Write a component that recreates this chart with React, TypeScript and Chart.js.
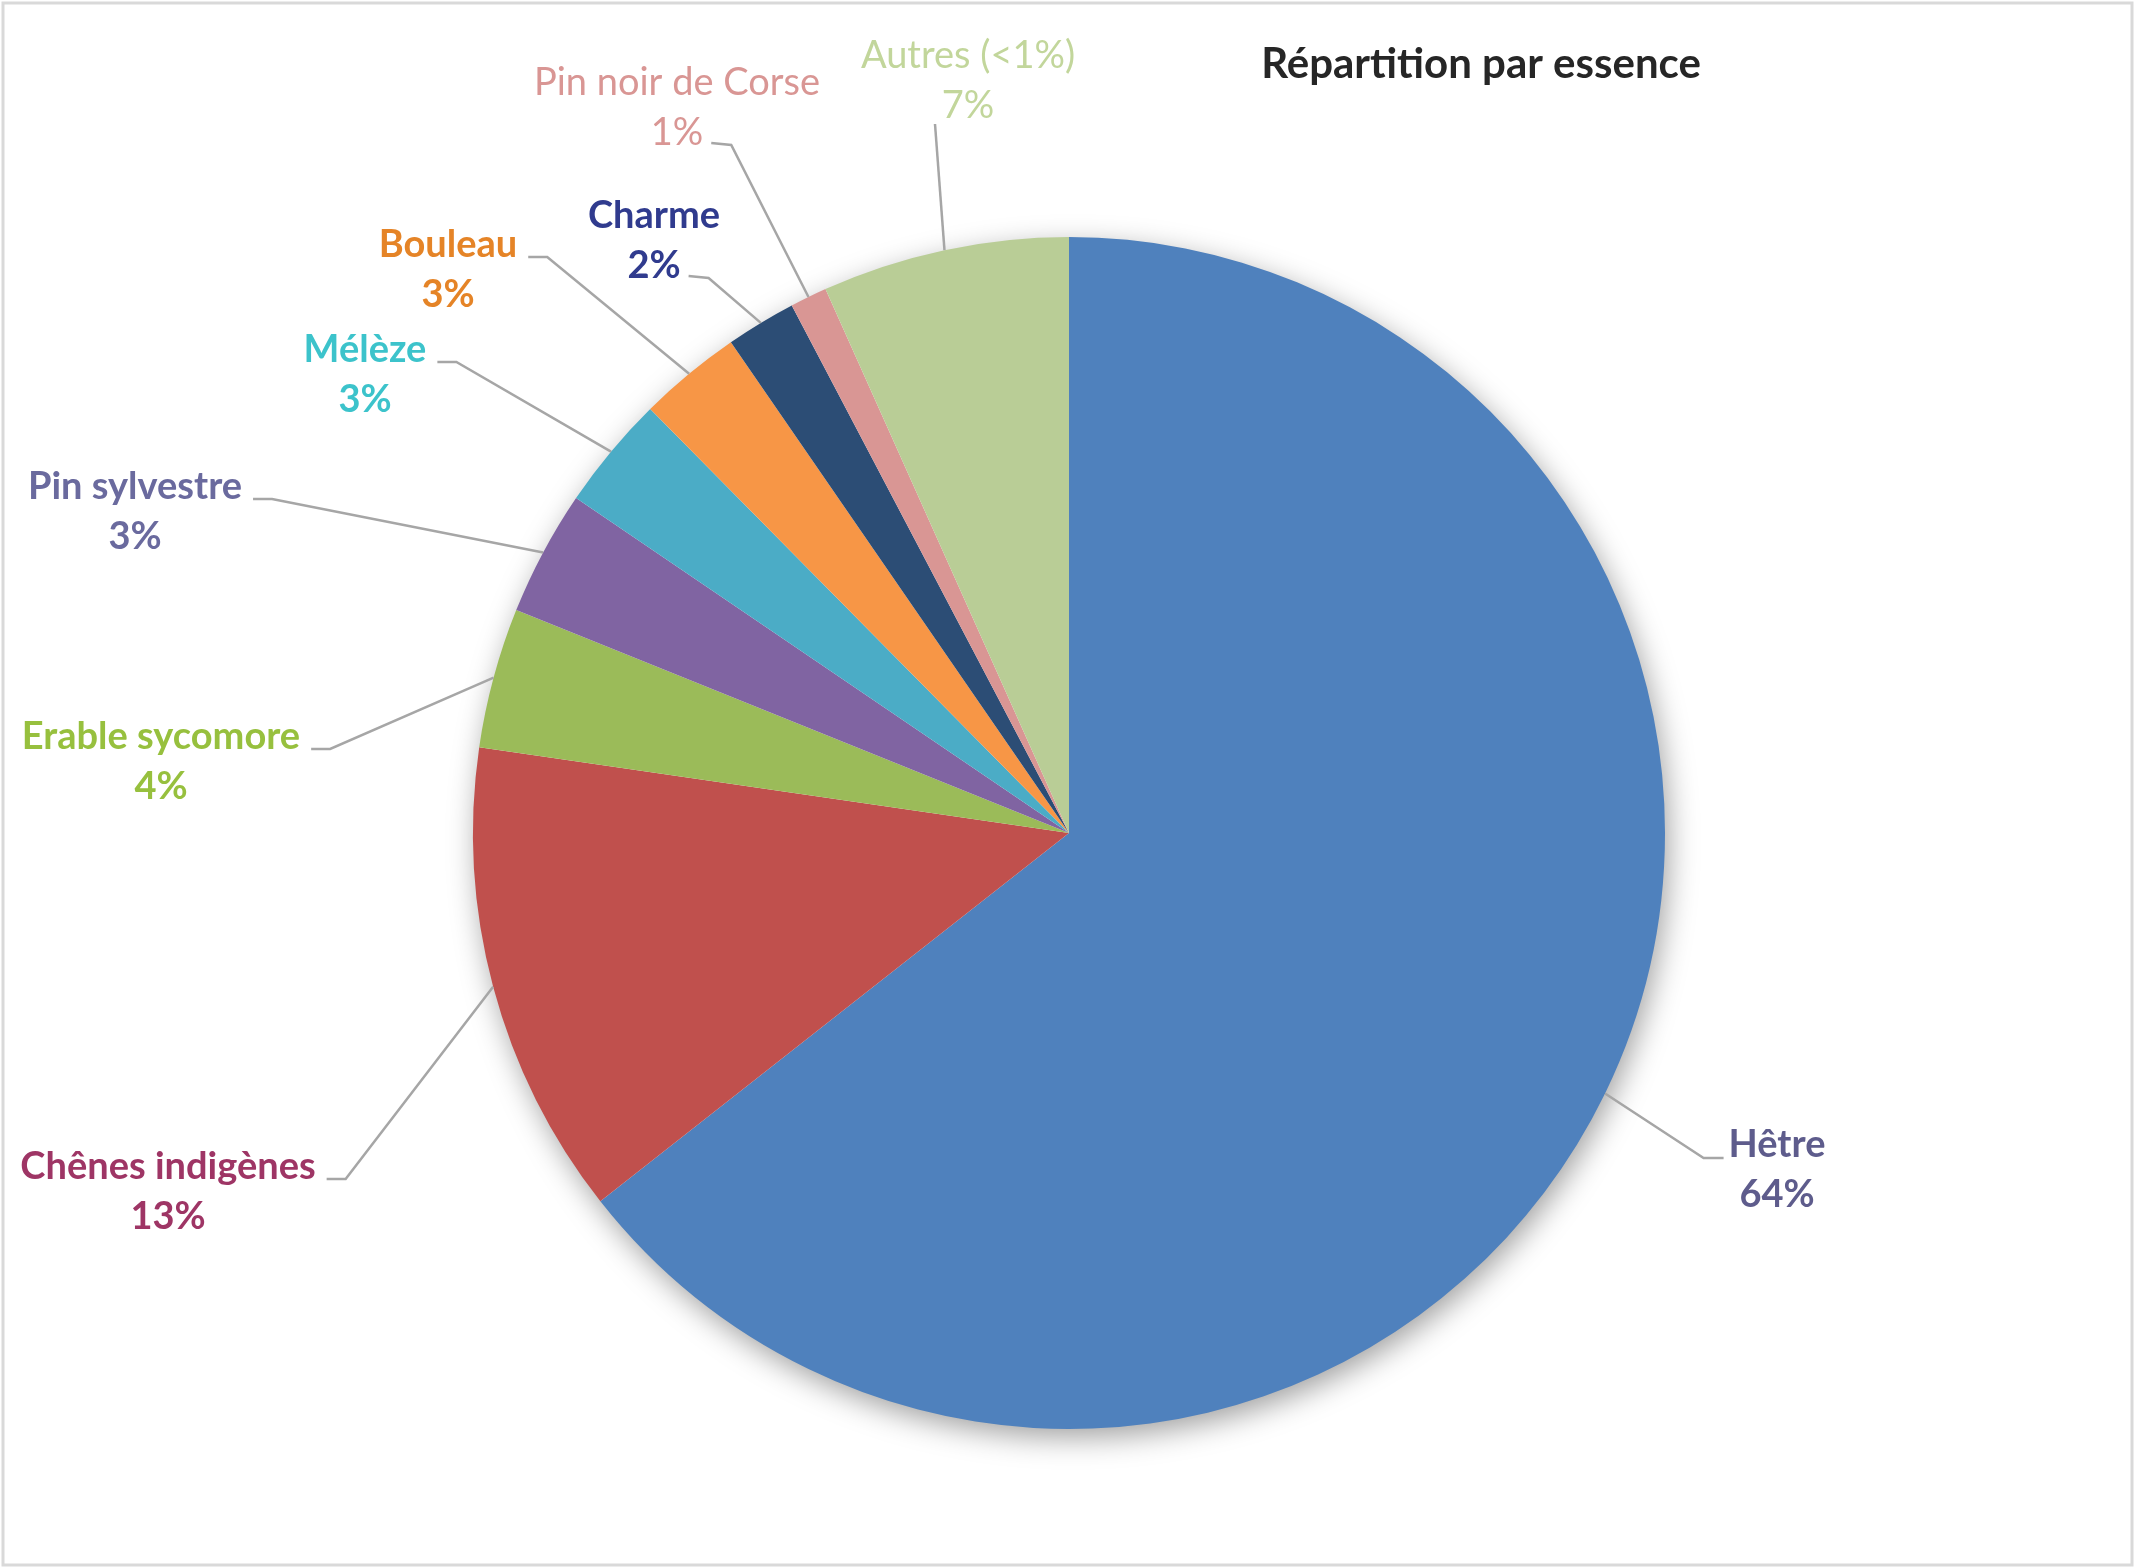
import React, { useEffect, useRef } from "react";
import { Chart, registerables } from "chart.js";

Chart.register(...registerables);

// ---- data ----
const categories = [
  "Hêtre",
  "Chênes indigènes",
  "Erable sycomore",
  "Pin sylvestre",
  "Mélèze",
  "Bouleau",
  "Charme",
  "Pin noir de Corse",
  "Autres (<1%)",
];
const shares = [64.4, 12.9, 3.8, 3.4, 3.1, 2.8, 1.9, 1.0, 6.7];
const percentLabels = ["64%", "13%", "4%", "3%", "3%", "3%", "2%", "1%", "7%"];
const chartTitle = "Répartition par essence";

// ---- styles ----
const sliceColors = [
  "#4F81BD",
  "#C0504D",
  "#9BBB59",
  "#8064A2",
  "#4BACC6",
  "#F79646",
  "#2C4D75",
  "#D99694",
  "#B9CD96",
];
const labelColors = [
  "#5E5C8C",
  "#9E3565",
  "#97C03E",
  "#6A6A9E",
  "#3CC3CB",
  "#E58427",
  "#303B8E",
  "#D99694",
  "#C2D69B",
];

// ---- layout (page pixels) ----
const W = 2135;
const H = 1568;
const CX = 1069;
const CY = 833;
const R = 596;
const FONT = "Lato, 'Open Sans', sans-serif";
const LABEL_SIZE = 38;
const LINE_GAP = 50;

type Attach = "nameLeft" | "nameRight" | "pctRight" | "below";
const labelLayout: { x: number; y: number; attach: Attach; bold: boolean }[] = [
  { x: 1777, y: 1145, attach: "nameLeft", bold: true },
  { x: 168, y: 1167, attach: "nameRight", bold: true },
  { x: 161, y: 737, attach: "nameRight", bold: true },
  { x: 135, y: 487, attach: "nameRight", bold: true },
  { x: 365, y: 350, attach: "nameRight", bold: true },
  { x: 448, y: 245, attach: "nameRight", bold: true },
  { x: 654, y: 216, attach: "pctRight", bold: true },
  { x: 677, y: 83, attach: "pctRight", bold: false },
  { x: 968, y: 56, attach: "below", bold: false },
];

const decorPlugin = {
  id: "decor",
  beforeDraw(chart: any) {
    const ctx = chart.ctx;
    ctx.save();
    ctx.fillStyle = "#ffffff";
    ctx.fillRect(0, 0, W, H);
    ctx.strokeStyle = "#D9D9D9";
    ctx.lineWidth = 3;
    ctx.strokeRect(3, 3, W - 6, H - 6);
    ctx.restore();
  },
  beforeDatasetsDraw(chart: any) {
    const meta = chart.getDatasetMeta(0);
    const a = meta.data[0];
    if (!a) return;
    const { x, y, outerRadius } = a.getProps(["x", "y", "outerRadius"], true);
    const ctx = chart.ctx;
    ctx.save();
    ctx.shadowColor = "rgba(0,0,0,0.38)";
    ctx.shadowBlur = 30;
    ctx.shadowOffsetX = 4;
    ctx.shadowOffsetY = 9;
    ctx.fillStyle = "#ffffff";
    ctx.beginPath();
    ctx.arc(x, y, outerRadius - 1, 0, Math.PI * 2);
    ctx.fill();
    ctx.restore();
  },
  afterDatasetsDraw(chart: any) {
    const ctx = chart.ctx;
    const meta = chart.getDatasetMeta(0);
    ctx.save();
    // title
    ctx.fillStyle = "#262626";
    ctx.font = `bold 42px ${FONT}`;
    ctx.textAlign = "center";
    ctx.textBaseline = "middle";
    ctx.fillText(chartTitle, 1481, 64);

    meta.data.forEach((arc: any, i: number) => {
      const p = arc.getProps(["x", "y", "startAngle", "endAngle", "outerRadius"], true);
      const mid = (p.startAngle + p.endAngle) / 2;
      const ax = p.x + Math.cos(mid) * p.outerRadius;
      const ay = p.y + Math.sin(mid) * p.outerRadius;
      const L = labelLayout[i];
      ctx.font = `${L.bold ? "bold" : "normal"} ${LABEL_SIZE}px ${FONT}`;
      const nameW = ctx.measureText(categories[i]).width;
      const pctW = ctx.measureText(percentLabels[i]).width;

      let ex = 0, ey = 0, bx = 0, by = 0;
      if (L.attach === "nameRight") {
        ex = L.x + nameW / 2 + 11;
        ey = L.y + 12;
        bx = ex + 19;
        by = ey;
      } else if (L.attach === "nameLeft") {
        ex = L.x - nameW / 2 - 5;
        ey = L.y + 13;
        bx = ex - 20;
        by = ey;
      } else if (L.attach === "pctRight") {
        ex = L.x + pctW / 2 + 8;
        ey = L.y + LINE_GAP + 10;
        bx = ex + 20;
        by = ey + 2;
      } else {
        ex = L.x - 33;
        ey = L.y + LINE_GAP + 18;
        bx = ex;
        by = ey;
      }
      ctx.strokeStyle = "#A6A6A6";
      ctx.lineWidth = 2.5;
      ctx.beginPath();
      ctx.moveTo(ex, ey);
      ctx.lineTo(bx, by);
      ctx.lineTo(ax, ay);
      ctx.stroke();

      ctx.fillStyle = labelColors[i];
      ctx.textAlign = "center";
      ctx.textBaseline = "middle";
      ctx.fillText(categories[i], L.x, L.y);
      ctx.fillText(percentLabels[i], L.x, L.y + LINE_GAP);
    });
    ctx.restore();
  },
};

export default function App() {
  const ref = useRef<HTMLCanvasElement | null>(null);
  useEffect(() => {
    document.body.style.margin = "0";
    document.body.style.overflow = "hidden";
    const canvas = ref.current;
    if (!canvas) return;
    const chart = new Chart(canvas, {
      type: "pie",
      data: {
        labels: categories,
        datasets: [
          {
            data: shares,
            backgroundColor: sliceColors,
            borderWidth: 0,
            hoverOffset: 0,
          },
        ],
      },
      options: {
        responsive: false,
        animation: false,
        devicePixelRatio: 1,
        radius: R,
        layout: {
          padding: { left: CX - R, top: CY - R, right: W - CX - R, bottom: H - CY - R },
        },
        plugins: {
          legend: { display: false },
          tooltip: { enabled: false },
          title: { display: false },
        },
      } as any,
      plugins: [decorPlugin],
    });
    return () => chart.destroy();
  }, []);
  return (
    <div style={{ width: W, height: H }}>
      <canvas ref={ref} width={W} height={H} style={{ width: W, height: H, display: "block" }} />
    </div>
  );
}
